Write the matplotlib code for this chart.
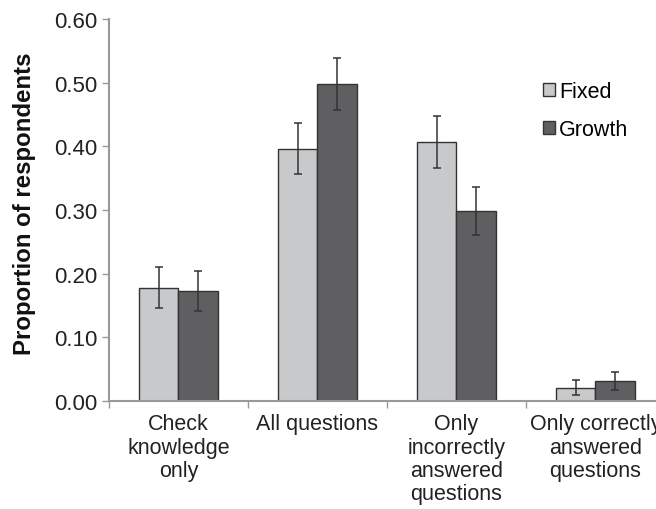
import numpy as np
import matplotlib
matplotlib.use('Agg')
import matplotlib.pyplot as plt

plt.rcParams['font.family'] = ['Liberation Sans', 'DejaVu Sans']

categories = ['Check\nknowledge\nonly', 'All questions', 'Only\nincorrectly\nanswered\nquestions',
              'Only correctly\nanswered\nquestions']
fixed = [0.178, 0.396, 0.407, 0.021]
fixed_err = [0.032, 0.040, 0.041, 0.012]
growth = [0.173, 0.498, 0.298, 0.031]
growth_err = [0.031, 0.041, 0.038, 0.014]

fig = plt.figure(figsize=(6.56, 5.10), dpi=100)
ax = fig.add_axes([0.166, 0.2118, 0.8477, 0.749])

x = np.arange(len(categories))
w = 0.285
ekw = dict(ecolor='#333333', elinewidth=1.1, capsize=3, capthick=1.1)
ax.bar(x - w/2, fixed, w, yerr=fixed_err, color='#c8c9cb', edgecolor='#333333',
       linewidth=1.0, label='Fixed', error_kw=ekw)
ax.bar(x + w/2, growth, w, yerr=growth_err, color='#5f5f61', edgecolor='#333333',
       linewidth=1.0, label='Growth', error_kw=ekw)

ax.set_xlim(-0.5, 3.5)
ax.set_ylim(0, 0.6)
ax.set_yticks(np.arange(0, 0.61, 0.1))
ax.set_yticklabels(['%.2f' % v for v in np.arange(0, 0.61, 0.1)], fontsize=16, color='#222222')
ax.set_xticks(x)
ax.set_xticklabels(categories, fontsize=15.5, color='#222222', linespacing=1.13)
ax.set_xticks(np.arange(-0.5, 3.6, 1), minor=True)
ax.tick_params(axis='x', which='major', length=0, pad=9)
ax.tick_params(axis='x', which='minor', length=5, color='#999999', width=1)
ax.tick_params(axis='y', length=5, color='#999999', width=1, pad=3)
for s in ['top', 'right']:
    ax.spines[s].set_visible(False)
for s in ['left', 'bottom']:
    ax.spines[s].set_color('#999999')
    ax.spines[s].set_linewidth(1.5)

ax.set_ylabel('Proportion of respondents', fontsize=17.3, fontweight='bold', color='#111111')
ax.yaxis.set_label_coords(-0.1316, 0.518)

fig.legend(loc='upper left', bbox_to_anchor=(543 / 656, 1 - 82 / 510), frameon=False, fontsize=15.5,
           handlelength=0.56, handleheight=0.56, handletextpad=0.2, labelspacing=0.78,
           borderaxespad=0, borderpad=0)

fig.savefig('out.png', dpi=100)
